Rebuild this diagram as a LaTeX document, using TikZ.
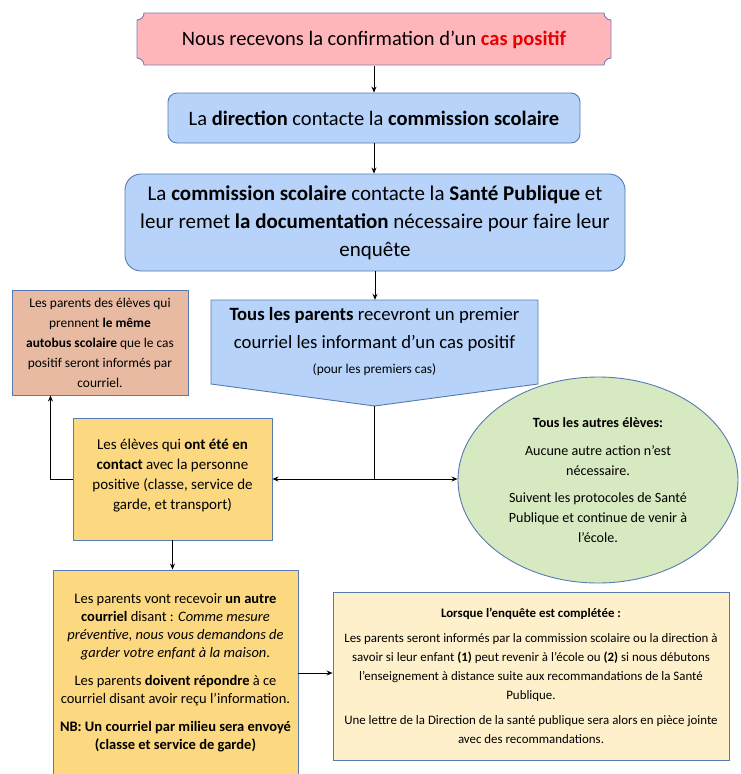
\documentclass[tikz,border=0pt]{standalone}
\usepackage{fontspec}
\setmainfont{Carlito}
\usetikzlibrary{shapes.geometric, arrows.meta, calc}

\definecolor{plaquefill}{RGB}{255,182,187}
\definecolor{plaqueline}{RGB}{125,125,178}
\definecolor{bluefill}{RGB}{183,211,249}
\definecolor{blueline}{RGB}{88,122,178}
\definecolor{busfill}{RGB}{232,186,162}
\definecolor{goldfill}{RGB}{252,216,128}
\definecolor{creamfill}{RGB}{253,240,203}
\definecolor{greenfill}{RGB}{214,233,192}
\definecolor{posred}{RGB}{232,0,0}

\tikzset{
  arr/.style={-{Stealth[length=6pt,width=5pt]}, line width=0.9pt},
  bluebox/.style={draw=blueline, fill=bluefill, line width=0.9pt, align=center, inner sep=0pt},
  infobox/.style={draw=blueline, line width=0.9pt, align=center, inner sep=0pt},
  bigtext/.style={font=\fontsize{20.5}{28}\selectfont},
  smalltext/.style={font=\fontsize{13.4}{20}\selectfont},
}

\begin{document}
\begin{tikzpicture}[x=1pt, y=-1pt]
    \useasboundingbox (0,0) rectangle (740,774);
    \clip (0,0) rectangle (740,774);

    % Draw the plaque with the positive case
    \filldraw[draw=plaqueline, fill=plaquefill, line width=0.9pt]
        (144,13) -- (604,13) .. controls (604,16.9) and (607.1,20) .. (611,20)
        -- (611,58) .. controls (607.1,58) and (604,61.1) .. (604,65)
        -- (144,65) .. controls (144,61.1) and (140.9,58) .. (137,58)
        -- (137,20) .. controls (140.9,20) and (144,16.9) .. (144,13) -- cycle;
    \node[bigtext, minimum width=474pt, minimum height=52pt, inner sep=0pt] (case) at (374,40)
        {Nous recevons la confirmation d’un \textcolor{posred}{\textbf{cas positif}}};

    % Draw the two rounded boxes
    \node[bluebox, bigtext, rounded corners=9pt, minimum width=412pt, minimum height=50pt] (direction) at (374,118)
        {La \textbf{direction} contacte la \textbf{commission scolaire}};
    \node[bluebox, font=\fontsize{21}{28}\selectfont, rounded corners=16pt, minimum width=500pt, minimum height=97pt] (commission) at (375,222.5)
        {La \textbf{commission scolaire} contacte la \textbf{Santé Publique} et\\
         leur remet \textbf{la documentation} nécessaire pour faire leur\\
         enquête};

    % Draw the arrow shaped box for all parents
    \filldraw[draw=blueline, fill=bluefill, line width=0.9pt]
        (211,300) -- (538,300) -- (538,384) -- (374.5,406) -- (211,384) -- cycle;
    \node[font=\fontsize{18.7}{28}\selectfont, align=center, minimum height=84pt, inner sep=0pt] (parents) at (374.5,342)
        {\textbf{Tous les parents} recevront un premier\\
         courriel les informant d’un cas positif\\[-3pt]
         {\fontsize{13.4}{16}\selectfont (pour les premiers cas)}};
    \coordinate (tip) at (374.5,406);
    \coordinate (split) at (374.5,479);

    % Draw the boxes of the second row
    \node[infobox, fill=busfill, smalltext, minimum width=176pt, minimum height=105pt] (autobus) at (100,342.5)
        {Les parents des élèves qui\\
         prennent \textbf{le même}\\
         \textbf{autobus scolaire} que le cas\\
         positif seront informés par\\
         courriel.};
    \node[infobox, fill=goldfill, font=\fontsize{15}{20}\selectfont, minimum width=199pt, minimum height=122pt] (contact) at (172.5,479)
        {Les élèves qui \textbf{ont été en}\\
         \textbf{contact} avec la personne\\
         positive (classe, service de\\
         garde, et transport)\\[-10pt]};
    \node[ellipse, infobox, fill=greenfill, font=\fontsize{14.1}{20}\selectfont, minimum width=280pt, minimum height=206pt] (autres) at (598,480)
        {\textbf{Tous les autres élèves:}\\[8pt]
         Aucune autre action n’est\\
         nécessaire.\\[7pt]
         Suivent les protocoles de Santé\\
         Publique et continue de venir à\\
         l’école.};

    % Draw the boxes of the last row
    \node[infobox, fill=goldfill, font=\fontsize{14.5}{18}\selectfont, minimum width=245pt, minimum height=206pt] (courriel) at (175.5,673)
        {Les parents vont recevoir \textbf{un autre}\\
         \textbf{courriel} disant : \textit{Comme mesure}\\
         \textit{préventive, nous vous demandons de}\\
         \textit{garder votre enfant à la maison}.\\[10pt]
         Les parents \textbf{doivent répondre} à ce\\
         courriel disant avoir reçu l’information.\\[10pt]
         \textbf{NB: Un courriel par milieu sera envoyé}\\
         \textbf{(classe et service de garde)}};
    \node[infobox, fill=creamfill, font=\fontsize{12.9}{19}\selectfont, minimum width=396pt, minimum height=168pt] (enquete) at (531,676)
        {\textbf{Lorsque l’enquête est complétée :}\\[6pt]
         Les parents seront informés par la commission scolaire ou la direction à\\
         savoir si leur enfant \textbf{(1)} peut revenir à l’école ou \textbf{(2)} si nous débutons\\
         l’enseignement à distance suite aux recommandations de la Santé\\
         Publique.\\[6pt]
         Une lettre de la Direction de la santé publique sera alors en pièce jointe\\
         avec des recommandations.};

    % Connect the boxes
    \draw[arr] (case.south) -- (direction.north);
    \draw[arr] (direction.south) -- (direction.south |- commission.north);
    \draw[arr] (commission.south) -- (commission.south |- parents.north);
    \draw[line width=0.9pt] (tip) -- (split);
    \draw[arr] (split) -- (contact.east);
    \draw[arr] (split) -- (split -| autres.west);
    \coordinate (busin) at ($(autobus.south west)!0.22!(autobus.south east)$);
    \draw[arr] (contact.west) -| (busin);
    \draw[arr] (contact.south) -- (contact.south |- courriel.north);
    \draw[arr] (courriel.east) -- (courriel.east -| enquete.west);
\end{tikzpicture}
\end{document}
